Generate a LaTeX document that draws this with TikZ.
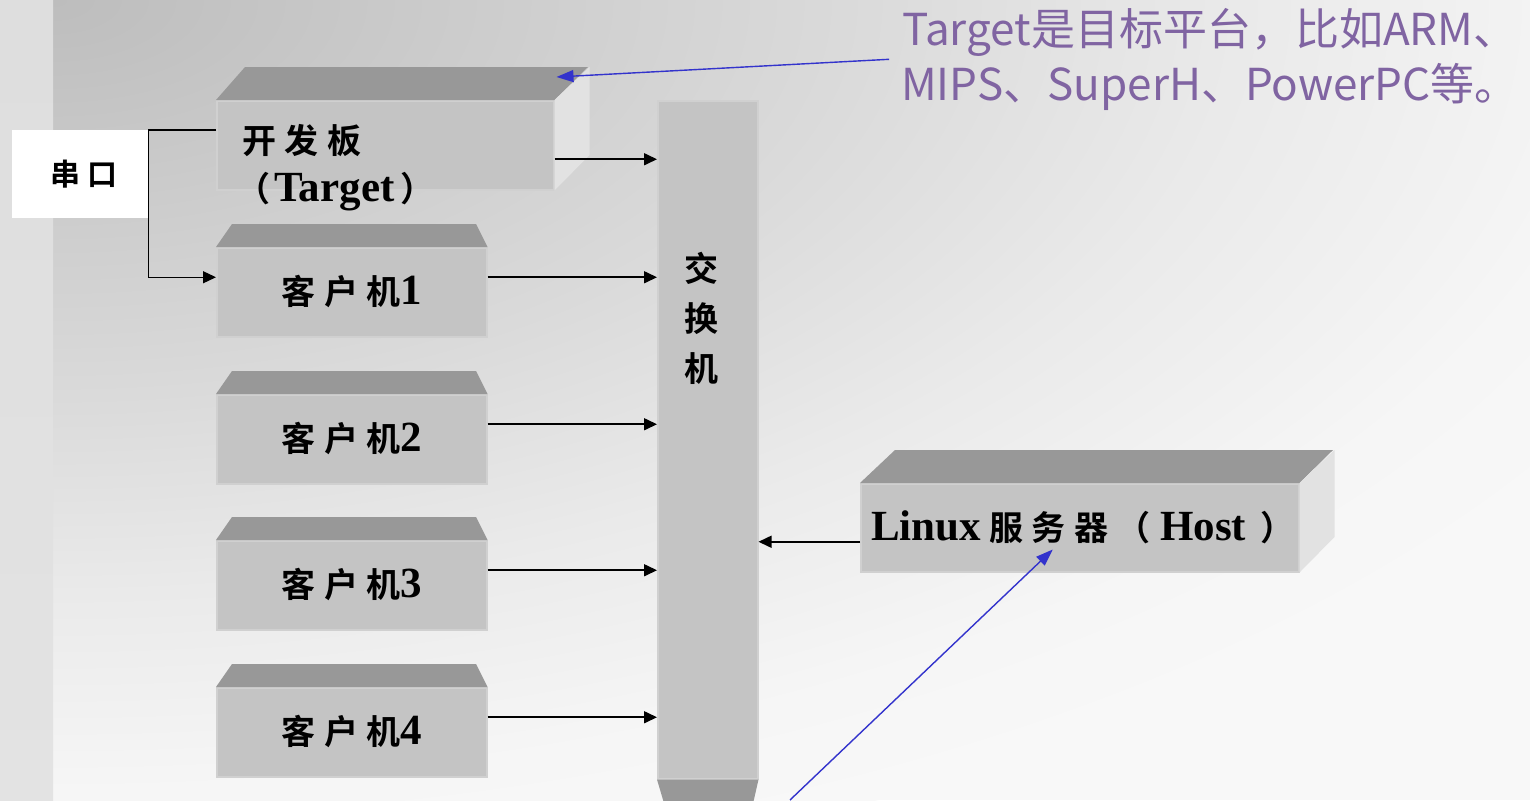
\documentclass[tikz,border=0pt]{standalone}
\usepackage{fontspec}
\setmainfont{Liberation Serif}
\newfontfamily\cjk{Noto Sans CJK SC}
\newfontfamily\kai{Noto Sans CJK SC Bold}[LetterSpace=25]
\newcommand\lat{\rmfamily\bfseries\fontsize{43}{50}\selectfont}
\usetikzlibrary{arrows.meta,positioning,calc}

\definecolor{facegray}{RGB}{196,196,196}
\definecolor{edgegray}{RGB}{208,208,208}
\definecolor{topgray}{RGB}{152,152,152}
\definecolor{sidegray}{RGB}{226,226,226}
\definecolor{notepurple}{RGB}{128,100,162}
\definecolor{arrowblue}{RGB}{51,51,204}
\definecolor{bgA}{RGB}{189,189,189}
\definecolor{bgB}{RGB}{218,218,218}
\definecolor{bgC}{RGB}{234,234,234}
\definecolor{bgD}{RGB}{246,246,246}
\definecolor{bgE}{RGB}{248,248,248}
% the middle 50bp of a shading is fitted to the path
\pgfdeclareradialshading{backdrop}{\pgfpoint{0bp}{0bp}}{color(0bp)=(bgA); color(11bp)=(bgB); color(16.5bp)=(bgC); color(22bp)=(bgD); color(25bp)=(bgE); color(50bp)=(bgE)}

\tikzset{
  face/.style={fill=facegray, draw=edgegray, line width=1.5pt, inner sep=0pt},
  topface/.style={fill=topgray},
  sideface/.style={fill=sidegray},
  zh/.style={font=\kai\fontsize{34}{50}\selectfont},
  conn/.style={line width=1.6pt, -{Triangle[length=13pt,width=12pt]}},
  bluearrow/.style={arrowblue, line width=1.4pt, -{Triangle[length=17pt,width=12pt]}},
}

\begin{document}
\begin{tikzpicture}[x=1pt,y=-1pt]
\useasboundingbox (0,0) rectangle (1530,800);
% backdrop
\fill[bgE] (0,0) rectangle (1530,800);
\begin{scope}
\clip (53,0) rectangle (1530,800);
\shade[shading=backdrop] (53,0) ellipse [x radius=1800, y radius=900];
\end{scope}
\shade[top color=black!13, middle color=black!29, bottom color=black!11] (0,0) rectangle (53,800);

% target board
\node[face, minimum width=337, minimum height=89, anchor=north west] (tgt) at (216,100) {};
\fill[topface] (tgt.north west) -- ++(29,-33) -- ++(343,0) -- (tgt.north east) -- cycle;
\fill[sideface] (tgt.north east) -- ++(35,-33) -- ++(0,88) -- (tgt.south east) -- cycle;
\node[zh, align=left, anchor=north west, inner sep=0pt] (tgtlabel) at ($(tgt.north west)+(26,24)$) {开发板\\[-2pt]\hspace{-6pt}（\hspace{4pt}{\lat Target}\hspace{6pt}）};

% clients
\foreach \i/\y in {1/247,2/394,3/540,4/687}{
  \node[face, zh, minimum width=270, minimum height=89, anchor=north west] (cl\i) at (216,\y) {\raisebox{4pt}{客户机{\lat\i}}};
  \fill[topface] (cl\i.north west) -- ++(16,-23) -- ++(244,0) -- (cl\i.north east) -- cycle;
}

% switch
\node[face, minimum width=100, minimum height=678, anchor=north west] (sw) at (657,100) {};
\fill[topface] (sw.south west) -- (sw.south east) -- ++(-5,22) -- ++(-90,0) -- cycle;
\node[zh, align=center, inner sep=0pt, below=152pt of sw.north, xshift=-6pt] (swlabel) {交\\换\\机};

% serial port
\node[fill=white, font=\kai\fontsize{30}{36}\selectfont, minimum width=136, minimum height=88, anchor=north west] (com) at (12,130) {\hspace{8pt}串口};
\draw[conn, line width=1.3pt] (tgt.west |- com.north) -- (com.north east) |- ($(cl1.west)+(0,-15)$);

% host
\node[face, zh, minimum width=438, minimum height=88, anchor=north west] (host) at (860,483) {\raisebox{5pt}{\hspace{6pt}{\lat Linux}\hspace{8pt}服务器\hspace{8pt}（\hspace{10pt}{\lat Host}\hspace{14pt}）}};
\fill[topface] (host.north west) -- ++(35,-33) -- ++(438,0) -- (host.north east) -- cycle;
\fill[sideface] (host.north east) -- ++(35,-33) -- ++(0,87) -- (host.south east) -- cycle;

% links to the switch
\draw[conn] ($(tgt.east)+(0,14)$) -- ($(sw.west |- tgt.east)+(0,14)$);
\foreach \i in {1,...,4}
  \draw[conn] ($(cl\i.east)+(0,-15)$) -- ($(sw.west |- cl\i.east)+(0,-15)$);
\draw[conn] ($(host.west)+(0,14)$) -- ($(sw.east |- host.west)+(0,14)$);

% note
\node[font=\cjk\fontsize{44}{55}\selectfont, text=notepurple, align=center, inner sep=0pt, anchor=north] (note) at (1210,8) {Target是目标平台，比如ARM、\\MIPS、SuperH、PowerPC等。};
\coordinate (lowend) at (790,800);
\draw[bluearrow] ([xshift=-12pt]note.west) -- ($(tgt.north east)+(2,-23)$);
\draw[bluearrow] (lowend) -- ($(host.south)+(-27,-23)$);
\end{tikzpicture}
\end{document}
